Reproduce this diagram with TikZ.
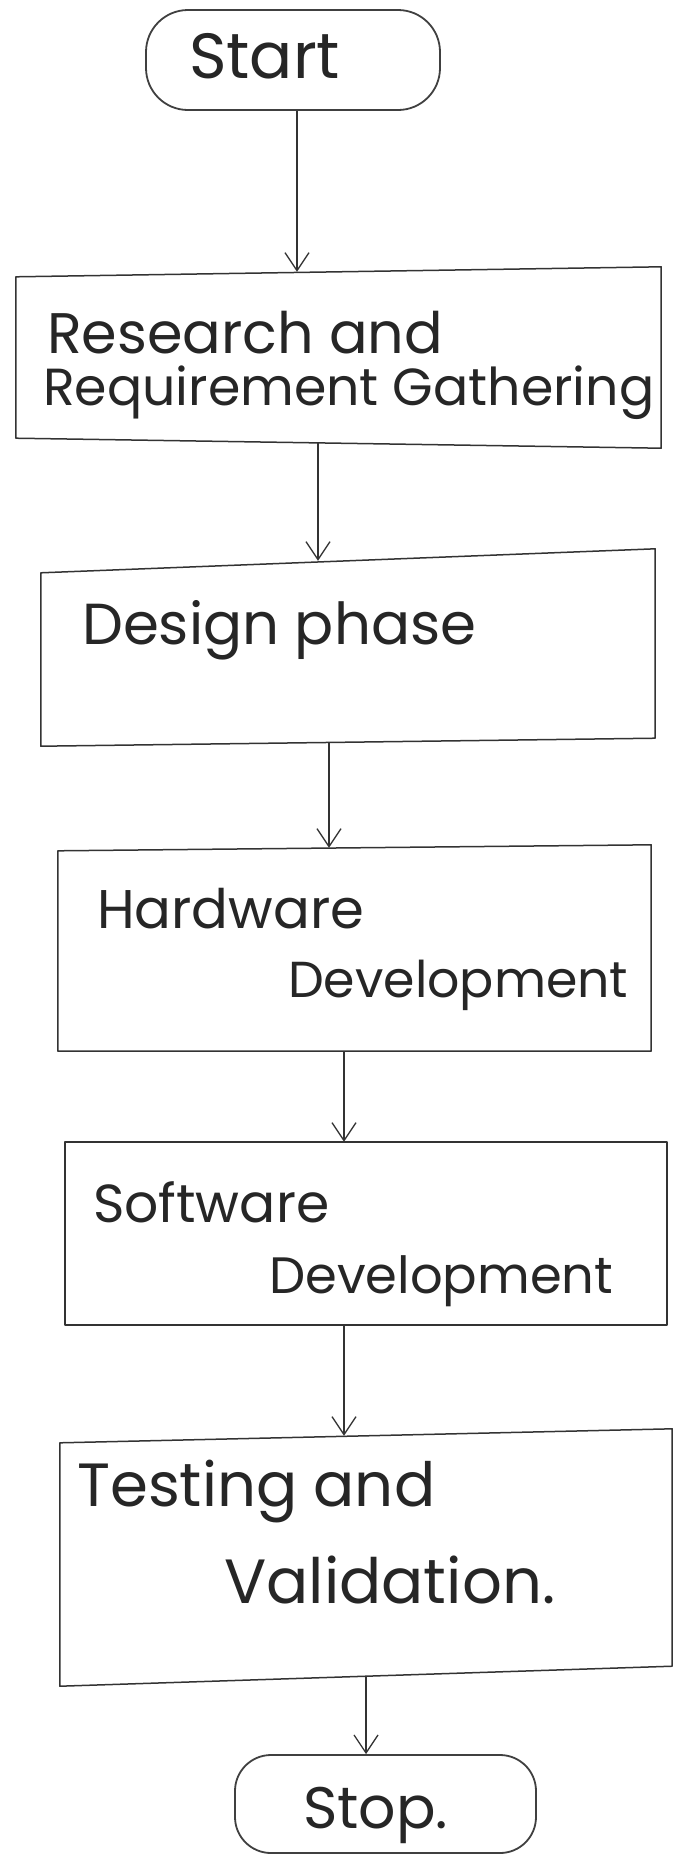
\documentclass[tikz,border=0pt]{standalone}
\usepackage{fontspec}
\setmainfont{Poppins}
\usetikzlibrary{arrows.meta,calc}
\newcommand{\hwtext}[2]{\resizebox{#1pt}{!}{#2}}
% skewed outline of a box node: y offsets (downward positive) of tl, tr, br, bl corners
\newcommand{\skewbox}[5]{%
  \draw[boxline] ($(#1.north west)+(0,#2)$) -- ($(#1.north east)+(0,#3)$)
    -- ($(#1.south east)+(0,#4)$) -- ($(#1.south west)+(0,#5)$) -- cycle;}
\begin{document}
\begin{tikzpicture}[x=1pt,y=-1pt,
  boxline/.style={draw=black!80, line width=1.5pt, line join=round},
  procbox/.style={rectangle, inner sep=0pt},
  termbox/.style={draw=black!75, line width=1.8pt, rectangle, rounded corners=42pt, inner sep=0pt},
  txt/.style={anchor=base west, inner sep=0pt, font=\fontsize{20}{24}\selectfont, text=black!85},
  arr/.style={draw=black!80, line width=1.3pt, -{Straight Barb[length=18pt,width=24pt,line width=1.3pt]}}]
\fill[white] (0,0) rectangle (675,1856);
\useasboundingbox (0,0) rectangle (675,1856);

\node[termbox, minimum width=294pt, minimum height=100pt] (start) at (293,60) {};
\node[procbox, minimum width=645pt, minimum height=171pt] (research) at (338.5,357.5) {};
\node[procbox, minimum width=614pt, minimum height=181pt] (design) at (348,651.5) {};
\node[procbox, minimum width=593pt, minimum height=203pt] (hardware) at (354.5,949.5) {};
\node[procbox, minimum width=602pt, minimum height=183pt] (software) at (366,1233.5) {};
\node[procbox, minimum width=612pt, minimum height=240pt] (testing) at (366,1556) {};
\node[termbox, rounded corners=36pt, minimum width=301pt, minimum height=98pt] (stop) at (385.5,1804) {};

\skewbox{research}{5}{-5}{5}{-5}
\skewbox{design}{12}{-12}{-4}{4}
\skewbox{hardware}{3}{-3}{0}{0}
\skewbox{software}{0}{0}{0}{0}
\skewbox{testing}{7}{-7}{-10}{10}

\node[txt] (tstart) at (189,78) {\hwtext{151}{Start}};
\node[txt] (tres1) at (47,353) {\hwtext{396}{Research and}};
\node[txt] (tres2) at (43,405) {\hwtext{611}{Requirement Gathering}};
\node[txt] (tdes) at (82,644) {\hwtext{394}{Design phase}};
\node[txt] (thw1) at (97,928) {\hwtext{267}{Hardware}};
\node[txt] (thw2) at (288,997) {\hwtext{340}{Development}};
\node[txt] (tsw1) at (93,1222) {\hwtext{236}{Software}};
\node[txt] (tsw2) at (269,1293) {\hwtext{344}{Development}};
\node[txt] (tte1) at (77,1506) {\hwtext{358}{Testing and}};
\node[txt] (tte2) at (224,1603) {\hwtext{331}{Validation.}};
\node[txt] (tstop) at (303,1828) {\hwtext{145}{Stop.}};

\coordinate (c1) at (297,0);
\coordinate (c2) at (318,0);
\coordinate (c3) at (329,0);
\coordinate (c4) at (344,0);
\coordinate (c5) at (344,0);
\coordinate (c6) at (366,0);

\draw[arr] (start.south -| c1) -- (research.north -| c1);
\draw[arr] (research.south -| c2) -- (design.north -| c2);
\draw[arr] (design.south -| c3) -- (hardware.north -| c3);
\draw[arr] (hardware.south -| c4) -- (software.north -| c4);
\draw[arr] (software.south -| c5) -- (testing.north -| c5);
\draw[arr] (testing.south -| c6) -- (stop.north -| c6);
\end{tikzpicture}
\end{document}
